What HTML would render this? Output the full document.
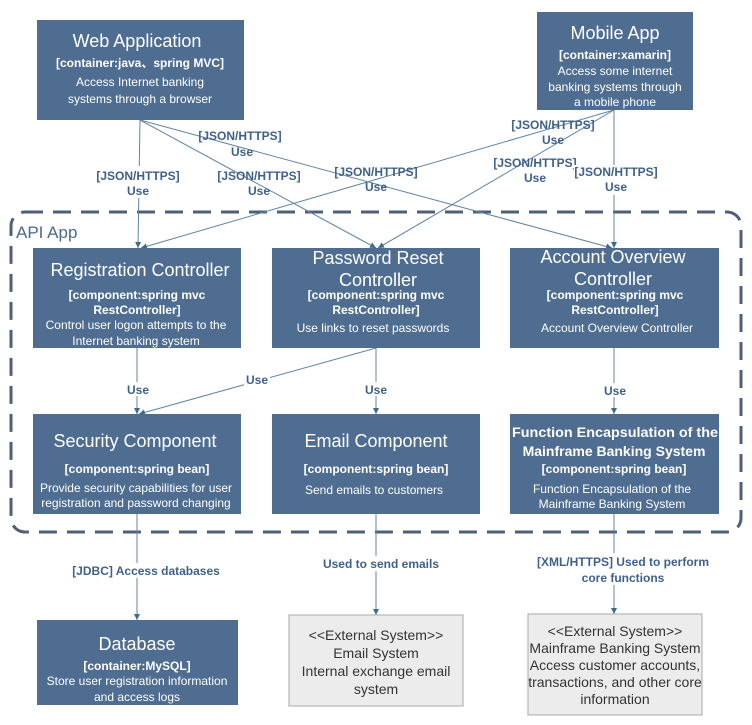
<!DOCTYPE html>
<html><head><meta charset="utf-8"><style>
html,body{margin:0;padding:0;background:#fff;}
svg{display:block;}
text{font-family:"Liberation Sans","Noto Sans CJK SC",sans-serif;}
.t{fill:#fff;font-size:18px;text-anchor:middle;}
.s{fill:#fff;font-size:12px;font-weight:bold;text-anchor:middle;}
.d{fill:#fff;font-size:12px;text-anchor:middle;}
.l{fill:#3f6189;font-size:12px;font-weight:bold;text-anchor:middle;}
.e{fill:#333;font-size:14px;text-anchor:middle;}
.ln{stroke:#5f84a6;stroke-width:1;fill:none;}
.b{fill:#4e6d90;}
</style></head><body>
<svg width="752" height="725" viewBox="0 0 752 725" xmlns="http://www.w3.org/2000/svg">
<defs><marker id="a" markerWidth="8" markerHeight="8" refX="6" refY="3" orient="auto"><path d="M0,0 L6,3 L0,6 Z" fill="#3f6a90"/></marker></defs>
<rect x="11" y="212" width="730" height="320" rx="14" fill="none" stroke="#4f5f78" stroke-width="3" stroke-dasharray="18,10"/>
<text x="16" y="238" font-size="17" fill="#4a6a90">API App</text>

<g class="ln" marker-end="url(#a)">
<line x1="140" y1="120" x2="138" y2="248"/>
<line x1="140" y1="120" x2="376" y2="248"/>
<line x1="140" y1="120" x2="612" y2="248"/>
<line x1="614" y1="110" x2="141" y2="248"/>
<line x1="614" y1="110" x2="378" y2="248"/>
<line x1="614" y1="110" x2="614" y2="248"/>
<line x1="137" y1="348" x2="137" y2="414"/>
<line x1="376" y1="348" x2="139" y2="414"/>
<line x1="376" y1="348" x2="376" y2="414"/>
<line x1="614" y1="348" x2="614" y2="414"/>
<line x1="137" y1="514" x2="137" y2="620"/>
<line x1="376" y1="514" x2="376" y2="615"/>
<line x1="614" y1="514" x2="614" y2="614"/>
</g>

<g class="l">
<rect x="96" y="166" width="86" height="32" fill="#fff"/>
<text x="138" y="180">[JSON/HTTPS]</text><text x="138" y="195">Use</text>
<text x="259" y="180">[JSON/HTTPS]</text><text x="259" y="195">Use</text>
<text x="240" y="140">[JSON/HTTPS]</text><text x="242" y="156">Use</text>
<text x="376" y="176">[JSON/HTTPS]</text><text x="376" y="191">Use</text>
<text x="553" y="129">[JSON/HTTPS]</text><text x="553" y="144">Use</text>
<text x="535" y="167">[JSON/HTTPS]</text><text x="535" y="182">Use</text>
<rect x="574" y="165" width="84" height="30" fill="#fff"/>
<text x="616" y="176">[JSON/HTTPS]</text><text x="616" y="191">Use</text>
<rect x="125" y="382" width="26" height="14" fill="#fff"/><text x="138" y="394">Use</text>
<rect x="244" y="372" width="26" height="14" fill="#fff"/><text x="257" y="384">Use</text>
<rect x="363" y="382" width="26" height="14" fill="#fff"/><text x="376" y="394">Use</text>
<rect x="602" y="383" width="26" height="14" fill="#fff"/><text x="615" y="395">Use</text>
<rect x="66" y="563" width="160" height="15" fill="#fff"/><text x="146" y="575">[JDBC] Access databases</text>
<rect x="316" y="556" width="130" height="15" fill="#fff"/><text x="381" y="568">Used to send emails</text>
<rect x="528" y="553" width="190" height="32" fill="#fff"/><text x="623" y="566">[XML/HTTPS] Used to perform</text><text x="623" y="582">core functions</text>
</g>

<rect class="b" x="37" y="20" width="207" height="100"/>
<text class="t" x="137" y="47">Web Application</text>
<text class="s" x="140" y="67">[container:java、spring MVC]</text>
<text class="d" x="140" y="86">Access Internet banking</text>
<text class="d" x="140" y="103">systems through a browser</text>

<rect class="b" x="537" y="12" width="156" height="98"/>
<text class="t" x="615" y="39">Mobile App</text>
<text class="s" x="615" y="59">[container:xamarin]</text>
<text class="d" x="615" y="75">Access some internet</text>
<text class="d" x="615" y="91">banking systems through</text>
<text class="d" x="615" y="106">a mobile phone</text>

<rect class="b" x="33" y="248" width="208" height="100"/>
<text class="t" x="140" y="276">Registration Controller</text>
<text class="s" x="137" y="299">[component:spring mvc</text>
<text class="s" x="137" y="314">RestController]</text>
<text class="d" x="136" y="329">Control user logon attempts to the</text>
<text class="d" x="136" y="345">Internet banking system</text>

<rect class="b" x="272" y="248" width="208" height="100"/>
<text class="t" x="378" y="264">Password Reset</text>
<text class="t" x="378" y="286">Controller</text>
<text class="s" x="376" y="299">[component:spring mvc</text>
<text class="s" x="376" y="314">RestController]</text>
<text class="d" x="373" y="332">Use links to reset passwords</text>

<rect class="b" x="510" y="248" width="209" height="100"/>
<text class="t" x="613" y="263">Account Overview</text>
<text class="t" x="613" y="285">Controller</text>
<text class="s" x="615" y="299">[component:spring mvc</text>
<text class="s" x="615" y="314">RestController]</text>
<text class="d" x="617" y="332">Account Overview Controller</text>

<rect class="b" x="33" y="414" width="208" height="100"/>
<text class="t" x="135" y="447">Security Component</text>
<text class="s" x="137" y="473">[component:spring bean]</text>
<text class="d" x="136" y="492">Provide security capabilities for user</text>
<text class="d" x="136" y="507">registration and password changing</text>

<rect class="b" x="272" y="414" width="208" height="100"/>
<text class="t" x="376" y="447">Email Component</text>
<text class="s" x="376" y="473">[component:spring bean]</text>
<text class="d" x="374" y="494">Send emails to customers</text>

<rect class="b" x="510" y="414" width="209" height="100"/>
<text x="615" y="437" fill="#fff" font-size="14" font-weight="bold" text-anchor="middle" textLength="206" lengthAdjust="spacingAndGlyphs">Function Encapsulation of the</text>
<text x="614" y="456" fill="#fff" font-size="14" font-weight="bold" text-anchor="middle">Mainframe Banking System</text>
<text class="s" x="614" y="473">[component:spring bean]</text>
<text class="d" x="612" y="493">Function Encapsulation of the</text>
<text class="d" x="612" y="508">Mainframe Banking System</text>

<rect class="b" x="37" y="620" width="201" height="85"/>
<text class="t" x="137" y="650">Database</text>
<text class="s" x="137" y="670">[container:MySQL]</text>
<text class="d" x="137" y="685">Store user registration information</text>
<text class="d" x="137" y="701">and access logs</text>

<rect x="289" y="615" width="174" height="91" fill="#ececec" stroke="#aaa"/>
<text class="e" x="376" y="640">&lt;&lt;External System&gt;&gt;</text>
<text class="e" x="376" y="658">Email System</text>
<text class="e" x="376" y="676">Internal exchange email</text>
<text class="e" x="376" y="694">system</text>

<rect x="528" y="614" width="174" height="101" fill="#ececec" stroke="#aaa"/>
<text class="e" x="615" y="636">&lt;&lt;External System&gt;&gt;</text>
<text class="e" x="615" y="653">Mainframe Banking System</text>
<text class="e" x="615" y="670">Access customer accounts,</text>
<text class="e" x="615" y="687">transactions, and other core</text>
<text class="e" x="615" y="704">information</text>
</svg>
</body></html>
